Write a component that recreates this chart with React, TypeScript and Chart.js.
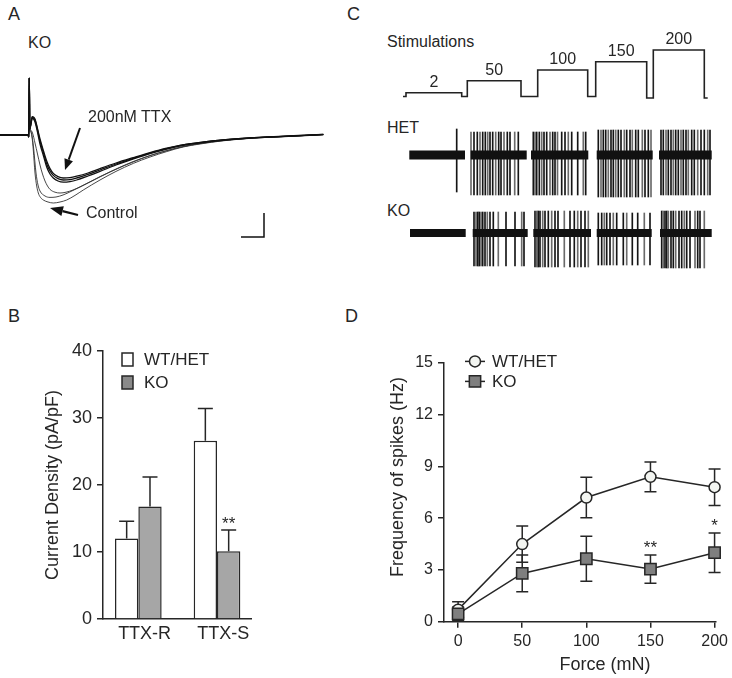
import React, { useEffect, useRef } from 'react';
import { Chart, registerables } from 'chart.js';

Chart.register(...registerables);

const FONT = "'Liberation Sans', Arial, Helvetica, sans-serif";
const INK = '#262626';
Chart.defaults.font.family = FONT;
Chart.defaults.color = INK;

// ---------- Panel A: KO current traces (time ms, current nA) ----------
const aPre: [number, number][] = [[-0.3, 0], [2.5, 0], [2.58, -0.1], [2.63, 2.85], [2.68, 0.3]];
const traceTTX1: [number, number][] = [[2.8, 0.6], [2.93, 0.9], [3.2, 0.75], [3.45, 0.25], [3.7, -0.3], [4.05, -0.9], [4.37, -1.45], [4.7, -1.8], [5.03, -2.02], [5.5, -2.18], [6.03, -2.25], [6.7, -2.23], [7.37, -2.15], [8.5, -1.97], [9.7, -1.75], [11.3, -1.45], [13.03, -1.17], [14.7, -0.9], [16.37, -0.68], [18, -0.5], [19.7, -0.38], [22, -0.25], [24.7, -0.15], [28, -0.07], [32.03, 0.03]];
const traceTTX2: [number, number][] = [[2.8, 0.55], [2.93, 0.85], [3.2, 0.65], [3.45, 0.15], [3.7, -0.45], [4.05, -1.05], [4.37, -1.6], [4.7, -1.95], [5.03, -2.15], [5.5, -2.3], [6.03, -2.36], [6.7, -2.33], [7.37, -2.25], [8.5, -2.05], [9.7, -1.82], [11.3, -1.5], [13.03, -1.2], [14.7, -0.93], [16.37, -0.7], [18, -0.52], [19.7, -0.39], [22, -0.26], [24.7, -0.16], [28, -0.08], [32.03, 0.02]];
const traceTTX3: [number, number][] = [[2.8, 0.6], [2.93, 0.92], [3.2, 0.8], [3.45, 0.32], [3.7, -0.2], [4.05, -0.8], [4.37, -1.3], [4.7, -1.68], [5.03, -1.92], [5.5, -2.08], [6.03, -2.15], [6.7, -2.13], [7.37, -2.06], [8.5, -1.9], [9.7, -1.68], [11.3, -1.4], [13.03, -1.13], [14.7, -0.88], [16.37, -0.66], [18, -0.49], [19.7, -0.37], [22, -0.24], [24.7, -0.14], [28, -0.06], [32.03, 0.03]];
const traceCtrl1: [number, number][] = [[2.75, 0.2], [2.9, -0.1], [3.03, -0.75], [3.2, -1.9], [3.37, -2.55], [3.53, -2.9], [3.75, -3.12], [4.03, -3.25], [4.5, -3.35], [5.03, -3.4], [5.7, -3.35], [6.37, -3.25], [7.2, -3.02], [8.03, -2.75], [9.7, -2.25], [11.3, -1.82], [13.03, -1.42], [14.7, -1.1], [16.37, -0.83], [18, -0.6], [19.7, -0.45], [22, -0.29], [24.7, -0.17], [28, -0.08], [32.03, 0.02]];
const traceCtrl2: [number, number][] = [[2.75, 0.2], [2.9, -0.05], [3.05, -0.6], [3.3, -1.9], [3.5, -2.5], [3.7, -2.8], [4.2, -3.05], [4.7, -3.12], [5.3, -3.1], [6.0, -3.0], [6.8, -2.82], [7.7, -2.6], [9.7, -2.08], [11.3, -1.7], [13.0, -1.33], [14.7, -1.03], [16.4, -0.78], [18, -0.58], [19.7, -0.43], [22, -0.28], [24.7, -0.16], [28, -0.08], [32.03, 0.02]];
const traceCtrl3: [number, number][] = [[2.75, 0.25], [2.95, 0.1], [3.2, -0.4], [3.45, -0.95], [3.7, -1.5], [3.95, -1.95], [4.2, -2.3], [4.45, -2.55], [4.7, -2.72], [5.2, -2.86], [5.7, -2.9], [6.3, -2.86], [7.0, -2.75], [7.8, -2.57], [8.7, -2.35], [10.7, -1.85], [13.5, -1.25], [15, -0.98], [16.7, -0.74], [18.3, -0.55], [20, -0.4], [22.5, -0.25], [25, -0.14], [28.5, -0.06], [32.03, 0.02]];
const aTraces = [traceTTX1, traceTTX2, traceTTX3, traceCtrl1, traceCtrl2, traceCtrl3];
const aArrowTTX = [7.7, 0.35, 6.2, -1.75];
const aArrowCtrl = [7.5, -4.0, 4.7, -3.65];
const aScaleBar = [23.8, 26.1, -5.1, -3.9];

// ---------- Panel C: stimulation and spike trains (time s) ----------
const stimTimes = [2.3, 2.6, 8.17, 8.73, 14.1, 15.77, 20.77, 21.57, 26.67, 27.33, 32.43, 32.77];
const stimLevels = [0, 3.8, 0, 15.8, 0, 26.5, 0, 34.8, -1.5, 46.5, -1.5, -1.5];
const stimLabels = ['2', '50', '100', '150', '200'];

const hetSegments = [[2.93, 8.5], [9.07, 14.67], [15.1, 20.83], [21.67, 27.27], [27.9, 33.17]];
const hetSpikes = [
  [7.67],
  [9.1, 9.4, 9.73, 10.0, 10.27, 10.53, 10.77, 11.0, 11.27, 11.57, 11.87, 12.1, 12.4, 12.73, 13.0, 13.47, 13.83],
  [15.33, 15.5, 15.67, 15.93, 16.17, 16.4, 16.67, 17.0, 17.27, 17.5, 17.75, 18.17, 18.5, 18.83, 19.17, 19.77, 20.33, 20.57],
  [21.83, 22.1, 22.33, 22.57, 22.83, 23.1, 23.33, 23.57, 23.83, 24.1, 24.43, 24.67, 25.0, 25.23, 25.57, 25.83, 26.23, 26.5, 26.83, 27.1],
  [28.1, 28.33, 28.6, 28.83, 29.1, 29.33, 29.57, 29.83, 30.1, 30.33, 30.6, 30.83, 31.17, 31.43, 31.77, 32.1, 32.43, 32.77, 33.0],
];
const hetSpikeTop = [26, 23, 23, 25, 25];
const hetSpikeBottom = [-37, -40, -40, -42, -40];

const koSegments = [[3.0, 8.57], [9.27, 14.77], [15.33, 21.1], [21.67, 27.17], [28.0, 33.17]];
const koSpikes = [
  [],
  [9.4, 9.6, 9.77, 9.93, 10.1, 10.27, 10.5, 10.73, 11.0, 11.33, 11.83, 12.6, 13.5, 14.17, 14.4],
  [15.5, 15.67, 15.83, 16.0, 16.27, 16.5, 16.83, 17.17, 17.5, 17.8, 18.43, 19.0, 19.43, 19.77, 20.1, 20.5, 20.83],
  [21.83, 22.17, 22.43, 22.67, 23.0, 23.33, 23.67, 24.33, 24.67, 25.23, 25.77, 26.43, 27.0],
  [28.17, 28.33, 28.5, 28.67, 28.83, 29.1, 29.33, 29.57, 29.9, 30.17, 30.43, 30.67, 31.0, 31.5, 31.77, 32.0, 32.43],
];
const koSpikeTop = [0, 21, 22, 20, 22];
const koSpikeBottom = [0, -33, -34, -32, -35];

// ---------- Panel B: current density ----------
const bCategories = ['TTX-R', 'TTX-S'];
const bWT = [12.0, 26.6];
const bWTsem = [2.6, 4.8];
const bKO = [16.8, 10.1];
const bKOsem = [4.4, 3.2];
const bKOsig = ['', '**'];
const bYTicks = [0, 10, 20, 30, 40];

// ---------- Panel D: spike frequency ----------
const dForce = [0, 50, 100, 150, 200];
const dWT = [0.7, 4.5, 7.2, 8.4, 7.8];
const dWTsem = [0.45, 1.05, 1.17, 0.86, 1.06];
const dKO = [0.45, 2.8, 3.65, 3.05, 4.0];
const dKOsem = [0.4, 1.07, 1.3, 0.82, 1.15];
const dKOsig = ['', '', '', '**', '*'];
const dYTicks = [0, 3, 6, 9, 12, 15];

const WT_FILL = '#f3f5f1';
const KO_FILL_D = '#7f7f7f';
const KO_FILL_B = '#a6a6a6';

function drawArrow(ctx: CanvasRenderingContext2D, x1: number, y1: number, x2: number, y2: number, len: number, w: number, lw: number) {
  const ang = Math.atan2(y2 - y1, x2 - x1);
  const bx = x2 - Math.cos(ang) * len;
  const by = y2 - Math.sin(ang) * len;
  ctx.save();
  ctx.strokeStyle = '#111';
  ctx.fillStyle = '#111';
  ctx.lineWidth = lw;
  ctx.beginPath();
  ctx.moveTo(x1, y1);
  ctx.lineTo(bx, by);
  ctx.stroke();
  ctx.beginPath();
  ctx.moveTo(x2, y2);
  ctx.lineTo(bx + Math.sin(ang) * w / 2, by - Math.cos(ang) * w / 2);
  ctx.lineTo(bx - Math.sin(ang) * w / 2, by + Math.cos(ang) * w / 2);
  ctx.closePath();
  ctx.fill();
  ctx.restore();
}

const hidden = { legend: { display: false }, tooltip: { enabled: false } };

function configA(): any {
  const annot = {
    id: 'aAnnot',
    afterDatasetsDraw(chart: any) {
      const { ctx, scales: { x, y } } = chart;
      const px = (v: number) => x.getPixelForValue(v);
      const py = (v: number) => y.getPixelForValue(v);
      drawArrow(ctx, px(aArrowTTX[0]), py(aArrowTTX[1]), px(aArrowTTX[2]), py(aArrowTTX[3]), 11, 9, 2);
      drawArrow(ctx, px(aArrowCtrl[0]), py(aArrowCtrl[1]), px(aArrowCtrl[2]), py(aArrowCtrl[3]), 13, 10, 2.2);
      ctx.save();
      ctx.strokeStyle = '#111';
      ctx.lineWidth = 1.5;
      ctx.beginPath();
      ctx.moveTo(px(aScaleBar[0]), py(aScaleBar[2]));
      ctx.lineTo(px(aScaleBar[1]), py(aScaleBar[2]));
      ctx.lineTo(px(aScaleBar[1]), py(aScaleBar[3]));
      ctx.stroke();
      ctx.restore();
    },
  };
  return {
    type: 'line',
    data: {
      datasets: aTraces.map((tr, i) => ({
        data: [...aPre, ...tr].map(([x, y]) => ({ x, y })),
        borderColor: i < 3 ? '#111' : '#333',
        borderWidth: i < 3 ? 1.3 : 0.9,
        pointRadius: 0,
        cubicInterpolationMode: 'monotone',
        fill: false,
      })),
    },
    options: {
      animation: false,
      responsive: false,
      layout: { padding: 0 },
      scales: {
        x: { type: 'linear', display: false, min: -0.3, max: 32.7 },
        y: { display: false, min: -5.75, max: 3.75 },
      },
      plugins: hidden,
    },
    plugins: [annot],
  };
}

function configStim(): any {
  const lab = {
    id: 'stimLab',
    afterDatasetsDraw(chart: any) {
      const { ctx, scales: { x, y } } = chart;
      ctx.save();
      ctx.fillStyle = INK;
      ctx.font = `16px ${FONT}`;
      ctx.textAlign = 'center';
      ctx.textBaseline = 'middle';
      stimLabels.forEach((t, k) => {
        const i = 1 + 2 * k;
        const cx = (x.getPixelForValue(stimTimes[i]) + x.getPixelForValue(stimTimes[i + 1])) / 2;
        const cy = y.getPixelForValue(stimLevels[i]) - 10;
        ctx.fillText(t, cx, cy);
      });
      ctx.restore();
    },
  };
  return {
    type: 'line',
    data: {
      datasets: [{
        data: stimTimes.map((t, i) => ({ x: t, y: stimLevels[i] })),
        stepped: true,
        borderColor: '#222',
        borderWidth: 1.6,
        pointRadius: 0,
        fill: false,
      }],
    },
    options: {
      animation: false,
      responsive: false,
      layout: { padding: 0 },
      scales: {
        x: { type: 'linear', display: false, min: 0, max: 34 },
        y: { display: false, min: -13.5, max: 66.5 },
      },
      plugins: hidden,
    },
    plugins: [lab],
  };
}

function configTrain(segments: number[][], spikes: number[][], tops: number[], bottoms: number[], band: number): any {
  const bandData: any[] = [];
  segments.forEach(([a, b]) => {
    bandData.push({ x: a, y: 0 }, { x: b, y: 0 }, { x: b, y: null });
  });
  const spikeData: any[] = [];
  spikes.forEach((list, s) => list.forEach((t) => spikeData.push({ x: t, y: [bottoms[s], tops[s]] })));
  return {
    type: 'bar',
    data: {
      datasets: [
        {
          type: 'line',
          data: bandData,
          borderColor: '#111',
          borderWidth: band,
          borderCapStyle: 'butt',
          pointRadius: 0,
          spanGaps: false,
          fill: false,
          order: 0,
        },
        {
          type: 'bar',
          data: spikeData,
          barThickness: 1,
          backgroundColor: (c: any) => (c.dataIndex % 3 === 1 ? '#6a6a6a' : '#151515'),
          borderWidth: 0,
          grouped: false,
          order: 1,
        },
      ],
    },
    options: {
      animation: false,
      responsive: false,
      layout: { padding: 0 },
      scales: {
        x: { type: 'linear', display: false, min: 0, max: 34, offset: false },
        y: { display: false, min: -45, max: 35 },
      },
      plugins: hidden,
    },
  };
}

function configB(): any {
  const extras = {
    id: 'bExtras',
    afterDatasetsDraw(chart: any) {
      const { ctx, chartArea: ca } = chart;
      const y = chart.scales.y;
      const vals = [bWT, bKO];
      const sems = [bWTsem, bKOsem];
      ctx.save();
      ctx.strokeStyle = INK;
      ctx.lineWidth = 1.5;
      [0, 1].forEach((di) => {
        const meta = chart.getDatasetMeta(di);
        meta.data.forEach((bar: any, i: number) => {
          const x = bar.x;
          const y0 = y.getPixelForValue(vals[di][i]);
          const y1 = y.getPixelForValue(vals[di][i] + sems[di][i]);
          ctx.beginPath();
          ctx.moveTo(x, y0);
          ctx.lineTo(x, y1);
          ctx.moveTo(x - 7.5, y1);
          ctx.lineTo(x + 7.5, y1);
          ctx.stroke();
          if (di === 1 && bKOsig[i]) {
            ctx.fillStyle = INK;
            ctx.font = `17px ${FONT}`;
            ctx.textAlign = 'center';
            ctx.textBaseline = 'alphabetic';
            ctx.fillText(bKOsig[i], x, y1 - 1);
          }
        });
      });
      // legend
      const items = [{ label: 'WT/HET', fill: '#ffffff' }, { label: 'KO', fill: '#8a8a8a' }];
      items.forEach((it, k) => {
        const top = ca.top + 2 + k * 23;
        ctx.fillStyle = it.fill;
        ctx.fillRect(ca.left + 19, top, 11, 13);
        ctx.strokeStyle = INK;
        ctx.lineWidth = 1.5;
        ctx.strokeRect(ca.left + 19, top, 11, 13);
        ctx.fillStyle = INK;
        ctx.font = `17px ${FONT}`;
        ctx.textAlign = 'left';
        ctx.textBaseline = 'middle';
        ctx.fillText(it.label, ca.left + 41, top + 7.5);
      });
      ctx.restore();
    },
  };
  return {
    type: 'bar',
    data: {
      datasets: [
        { label: 'WT/HET', data: bWT.map((v, i) => ({ x: i, y: v })), backgroundColor: '#ffffff', borderColor: INK, borderWidth: 1.5 },
        { label: 'KO', data: bKO.map((v, i) => ({ x: i, y: v })), backgroundColor: KO_FILL_B, borderColor: INK, borderWidth: 1.5 },
      ],
    },
    options: {
      animation: false,
      responsive: false,
      categoryPercentage: 0.593,
      barPercentage: 1,
      layout: { padding: { top: 21, right: 19, bottom: 0, left: 0 } },
      scales: {
        x: {
          type: 'linear',
          min: -0.449,
          max: 1.432,
          offset: false,
          afterBuildTicks: (s: any) => { s.ticks = bCategories.map((_, i) => ({ value: i + 0.08 })); },
          afterFit: (s: any) => { s.height = 56; },
          ticks: { callback: (_v: any, i: number) => bCategories[i], font: { size: 18, family: FONT }, color: INK, padding: 4, autoSkip: false, maxRotation: 0 },
          grid: { display: true, drawOnChartArea: false, drawTicks: false, offset: false },
          border: { color: INK, width: 1.5 },
        },
        y: {
          min: 0,
          max: 40,
          afterBuildTicks: (s: any) => { s.ticks = bYTicks.map((v) => ({ value: v })); },
          afterFit: (s: any) => { s.width = 103; },
          ticks: { font: { size: 18, family: FONT }, color: INK, padding: 5 },
          grid: { drawOnChartArea: false, drawTicks: true, tickLength: 6, color: INK, lineWidth: 1.5 },
          border: { color: INK, width: 1.5 },
          title: { display: true, text: 'Current Density (pA/pF)', font: { size: 18, family: FONT }, color: INK, padding: { top: 42, bottom: 0 } },
        },
      },
      plugins: hidden,
    },
    plugins: [extras],
  };
}

function configD(): any {
  const errs = {
    id: 'dErr',
    beforeDatasetsDraw(chart: any) {
      const { ctx } = chart;
      const { x, y } = chart.scales;
      const sets = [[dWT, dWTsem], [dKO, dKOsem]];
      ctx.save();
      ctx.strokeStyle = INK;
      ctx.lineWidth = 1.5;
      sets.forEach(([vals, sems]) => {
        dForce.forEach((f, i) => {
          const px = x.getPixelForValue(f);
          const y1 = y.getPixelForValue(vals[i] + sems[i]);
          const y2 = y.getPixelForValue(Math.max(0, vals[i] - sems[i]));
          ctx.beginPath();
          ctx.moveTo(px, y1);
          ctx.lineTo(px, y2);
          ctx.moveTo(px - 6, y1);
          ctx.lineTo(px + 6, y1);
          ctx.moveTo(px - 6, y2);
          ctx.lineTo(px + 6, y2);
          ctx.stroke();
        });
      });
      ctx.restore();
    },
    afterDatasetsDraw(chart: any) {
      const { ctx, chartArea: ca } = chart;
      const { x, y } = chart.scales;
      ctx.save();
      ctx.fillStyle = INK;
      ctx.font = `17px ${FONT}`;
      ctx.textAlign = 'center';
      ctx.textBaseline = 'alphabetic';
      dForce.forEach((f, i) => {
        if (!dKOsig[i]) return;
        ctx.fillText(dKOsig[i], x.getPixelForValue(f), y.getPixelForValue(dKO[i] + dKOsem[i]) - 1.5);
      });
      // axis titles (placed off-centre as in the original figure)
      ctx.font = `18px ${FONT}`;
      ctx.textAlign = 'center';
      ctx.textBaseline = 'middle';
      ctx.fillText('Force (mN)', ca.left + 161, chart.height - 13);
      ctx.save();
      ctx.translate(ca.left - 46, ca.top + 114);
      ctx.rotate(-Math.PI / 2);
      ctx.fillText('Frequency of spikes (Hz)', 0, 0);
      ctx.restore();
      // legend
      const rows = [
        { label: 'WT/HET', style: 'circle', fill: WT_FILL, r: 5.5 },
        { label: 'KO', style: 'rect', fill: KO_FILL_D, r: 8 },
      ];
      rows.forEach((row, k) => {
        const cy = ca.top - 1.6 + k * 20;
        ctx.strokeStyle = INK;
        ctx.lineWidth = 1.5;
        ctx.beginPath();
        ctx.moveTo(ca.left + 21, cy);
        ctx.lineTo(ca.left + 41, cy);
        ctx.stroke();
        ctx.fillStyle = row.fill;
        ctx.beginPath();
        if (row.style === 'circle') {
          ctx.arc(ca.left + 31, cy, row.r, 0, Math.PI * 2);
        } else {
          const h = row.r * Math.SQRT1_2;
          ctx.rect(ca.left + 31 - h, cy - h, 2 * h, 2 * h);
        }
        ctx.fill();
        ctx.stroke();
        ctx.fillStyle = INK;
        ctx.font = `17px ${FONT}`;
        ctx.textAlign = 'left';
        ctx.textBaseline = 'middle';
        ctx.fillText(row.label, ca.left + 48, cy + 1);
      });
      ctx.restore();
    },
  };
  return {
    type: 'line',
    data: {
      datasets: [
        {
          label: 'WT/HET',
          data: dForce.map((f, i) => ({ x: f, y: dWT[i] })),
          borderColor: INK,
          borderWidth: 1.5,
          pointStyle: 'circle',
          pointRadius: 5.5,
          pointBackgroundColor: WT_FILL,
          pointBorderColor: INK,
          pointBorderWidth: 1.5,
          order: 1,
          clip: false,
        },
        {
          label: 'KO',
          data: dForce.map((f, i) => ({ x: f, y: dKO[i] })),
          borderColor: INK,
          borderWidth: 1.5,
          pointStyle: 'rect',
          pointRadius: 8,
          pointBackgroundColor: KO_FILL_D,
          pointBorderColor: INK,
          pointBorderWidth: 1.5,
          order: 0,
          clip: false,
        },
      ],
    },
    options: {
      animation: false,
      responsive: false,
      layout: { padding: { top: 33, right: 16, bottom: 0, left: 0 } },
      scales: {
        x: {
          type: 'linear',
          min: -11,
          max: 201,
          afterBuildTicks: (s: any) => { s.ticks = dForce.map((v) => ({ value: v })); },
          afterFit: (s: any) => { s.height = 56.3; },
          ticks: { font: { size: 16, family: FONT }, color: INK, padding: 4, autoSkip: false, maxRotation: 0 },
          grid: { drawOnChartArea: false, drawTicks: true, tickLength: 6, color: INK, lineWidth: 1.5 },
          border: { color: INK, width: 1.5 },
        },
        y: {
          min: 0,
          max: 15,
          afterBuildTicks: (s: any) => { s.ticks = dYTicks.map((v) => ({ value: v })); },
          afterFit: (s: any) => { s.width = 74; },
          ticks: { font: { size: 16, family: FONT }, color: INK, padding: 5 },
          grid: { drawOnChartArea: false, drawTicks: true, tickLength: 6, color: INK, lineWidth: 1.5 },
          border: { color: INK, width: 1.5 },
        },
      },
      plugins: hidden,
    },
    plugins: [errs],
  };
}

function ChartCanvas({ left, top, width, height, config }: { left: number; top: number; width: number; height: number; config: () => any }) {
  const ref = useRef<HTMLCanvasElement>(null);
  useEffect(() => {
    const chart = new Chart(ref.current as HTMLCanvasElement, config());
    return () => chart.destroy();
  }, []);
  return <canvas ref={ref} width={width} height={height} style={{ position: 'absolute', left, top, width, height, display: 'block' }} />;
}

function Label({ text, x, y, size }: { text: string; x: number; y: number; size: number }) {
  return (
    <div style={{ position: 'absolute', left: x, top: y - size * 0.5, fontSize: size, lineHeight: `${size}px`, whiteSpace: 'nowrap', color: INK }}>
      {text}
    </div>
  );
}

export default function App() {
  return (
    <div style={{ position: 'fixed', left: 0, top: 0, width: 732, height: 678, background: '#ffffff', fontFamily: FONT, overflow: 'hidden' }}>
      <Label text="A" x={8} y={14} size={18} />
      <Label text="B" x={8} y={316} size={18} />
      <Label text="C" x={347} y={14} size={18} />
      <Label text="D" x={345} y={316} size={18} />

      <ChartCanvas left={0} top={60} width={330} height={190} config={configA} />
      <Label text="KO" x={28} y={43} size={16} />
      <Label text="200nM TTX" x={88} y={117} size={16} />
      <Label text="Control" x={86} y={213} size={16} />

      <Label text="Stimulations" x={387} y={42} size={16} />
      <ChartCanvas left={380} top={30} width={340} height={80} config={configStim} />
      <Label text="HET" x={387} y={128} size={16} />
      <ChartCanvas left={380} top={120} width={340} height={80} config={() => configTrain(hetSegments, hetSpikes, hetSpikeTop, hetSpikeBottom, 9)} />
      <Label text="KO" x={387} y={211} size={16} />
      <ChartCanvas left={380} top={198.3} width={340} height={80} config={() => configTrain(koSegments, koSpikes, koSpikeTop, koSpikeBottom, 8)} />

      <ChartCanvas left={0} top={330} width={270} height={345} config={configB} />
      <ChartCanvas left={370} top={330} width={362} height={348} config={configD} />
    </div>
  );
}
